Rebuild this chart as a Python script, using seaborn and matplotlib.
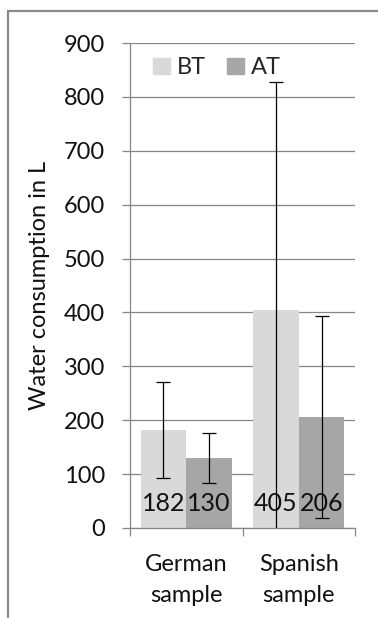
import matplotlib
matplotlib.use("Agg")
import matplotlib.pyplot as plt
import matplotlib.patches as mpatches
import seaborn as sns
import pandas as pd

# Mean water consumption (L) before (BT) and after (AT), with standard deviations
samples = ["German\nsample", "Spanish\nsample"]
periods = ["BT", "AT"]
bt_means = [182, 405]
at_means = [130, 206]
bt_sd = [89, 422]
at_sd = [46, 187]

colors = {"BT": "#d9d9d9", "AT": "#a6a6a6"}
grid_col = "#868686"
text_col = "#111111"

sns.set_theme(style="white")
plt.rcParams["font.family"] = ["Lato", "DejaVu Sans"]

df = pd.DataFrame({
    "sample": samples * 2,
    "period": ["BT"] * len(samples) + ["AT"] * len(samples),
    "value": bt_means + at_means,
    "sd": bt_sd + at_sd,
})

fig = plt.figure(figsize=(3.78, 6.18), dpi=100)
ax = fig.add_axes([130 / 378, 1 - 528 / 618, 225 / 378, 485 / 618])

sns.barplot(data=df, x="sample", y="value", hue="period", hue_order=periods,
            palette=colors, errorbar=None, width=0.81, saturation=1,
            linewidth=0, ax=ax, zorder=2)

# Error bars and value labels placed at each bar's centre
for container, period in zip(ax.containers, periods):
    sub = df[df["period"] == period]
    for rect, (_, row) in zip(container, sub.iterrows()):
        cx = rect.get_x() + rect.get_width() / 2
        ax.errorbar(cx, row["value"], yerr=row["sd"], color="black",
                    elinewidth=0.9, capsize=4.7, capthick=0.9, zorder=4)
        ax.text(cx, 46, f"{row['value']:.0f}", ha="center", va="center",
                fontsize=18, color=text_col, zorder=5)

ax.set_ylim(0, 900)
ax.set_xlim(-0.5, 1.5)
ax.set_yticks(range(0, 901, 100))
ax.yaxis.grid(True, color=grid_col, linewidth=0.9, zorder=0)
ax.set_axisbelow(True)
ax.tick_params(axis="y", which="major", length=5.8, width=0.9, color=grid_col,
               left=True, labelsize=17, labelcolor=text_col, pad=12)
ax.tick_params(axis="x", length=0, labelsize=17, labelcolor=text_col, pad=19)
ax.set_xticks([0, 1])
ax.set_xticklabels(samples, linespacing=1.55)
# category boundary ticks on the x-axis
ax.set_xticks([-0.5, 0.5, 1.5], minor=True)
ax.tick_params(axis="x", which="minor", length=5.8, width=0.9, color=grid_col,
               bottom=True, direction="out")

for side in ["top", "right"]:
    ax.spines[side].set_visible(False)
for side in ["left", "bottom"]:
    ax.spines[side].set_color(grid_col)
    ax.spines[side].set_linewidth(0.9)

ax.set_xlabel("")
ax.set_ylabel("Water consumption in L", fontsize=17, color=text_col, labelpad=10)

handles = [mpatches.Patch(color=colors[p], label=p) for p in periods]
ax.legend(handles=handles, loc="upper left", bbox_to_anchor=(0.04, 1.0), ncol=2,
          frameon=False, fontsize=17, handlelength=0.7, handleheight=0.7,
          handletextpad=0.3, columnspacing=0.9, borderaxespad=0.2)

# outer chart frame (continues past the right and bottom edges)
frame = mpatches.Rectangle((8 / 378, -0.1), 1.2, 1.1 - 11 / 618,
                           transform=fig.transFigure, fill=False,
                           edgecolor="#8a8a8a", linewidth=1.6, clip_on=False)
fig.patches.append(frame)

fig.savefig("out.png", dpi=100)
